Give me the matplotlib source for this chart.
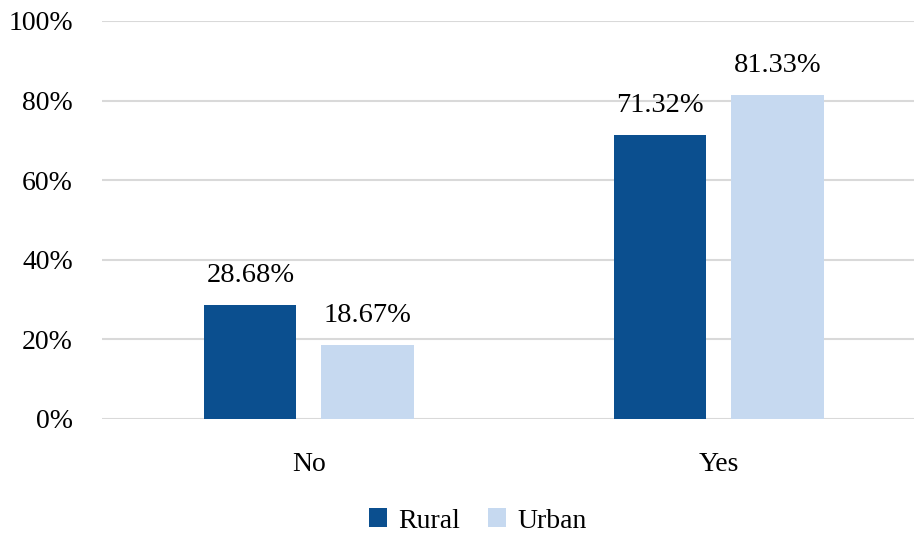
import numpy as np
import matplotlib.pyplot as plt
from matplotlib.ticker import FuncFormatter

categories = ["No", "Yes"]
rural = [28.68, 71.32]
urban = [18.67, 81.33]

plt.rcParams['font.family'] = ['Liberation Serif', 'DejaVu Serif']

fig = plt.figure(figsize=(9.14, 5.37), dpi=100)
ax = fig.add_axes([102 / 914, 1 - 419 / 537, 812 / 914, 398 / 537])

x = np.arange(len(categories))
w = 0.225
off = 0.143
b1 = ax.bar(x - off, rural, w, color='#0B4F8F', label='Rural', zorder=3)
b2 = ax.bar(x + off, urban, w, color='#C6D9F0', label='Urban', zorder=3)

for bars, vals in ((b1, rural), (b2, urban)):
    for rect, v in zip(bars, vals):
        ax.text(rect.get_x() + rect.get_width() / 2, v + 4.3, f"{v:.2f}%",
                ha='center', va='bottom', fontsize=20.5)

ax.set_ylim(0, 100)
ax.set_xlim(-0.505, 1.476)
ax.set_yticks(np.arange(0, 101, 20))
ax.yaxis.set_major_formatter(FuncFormatter(lambda v, p: f"{v:.0f}%"))
ax.set_xticks(x)
ax.set_xticklabels(categories)
ax.tick_params(axis='both', length=0, labelsize=20, colors='black')
ax.tick_params(axis='y', pad=21)
ax.tick_params(axis='x', pad=24)
ax.grid(axis='y', color='#D9D9D9', linewidth=1.5, zorder=0)
for s in ax.spines.values():
    s.set_visible(False)

fig.legend(handles=[b1, b2], loc='center', bbox_to_anchor=(478 / 914, 1 - 521 / 537),
           ncol=2, frameon=False, fontsize=20, handlelength=0.65, handleheight=0.65,
           handletextpad=0.4, columnspacing=1.0)

fig.savefig('out.png', dpi=100, facecolor='white')
